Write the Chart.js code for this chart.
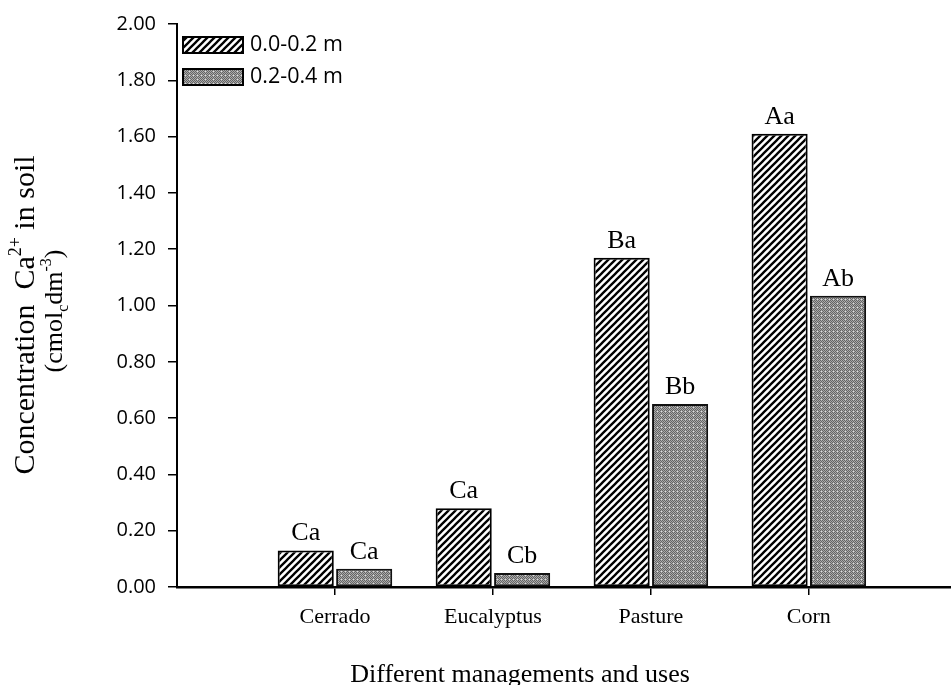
<!DOCTYPE html>
<html><head><meta charset="utf-8">
<script src="https://cdn.jsdelivr.net/npm/chart.js@4.4.0/dist/chart.umd.min.js"></script>
<style>html,body{margin:0;padding:0;background:#fff;}#wrap{width:951px;height:685px;position:relative;}</style>
</head><body><div id="wrap"><canvas id="c" width="951" height="685"></canvas></div>
<script>
// ---- data ----
const categories = ['Cerrado', 'Eucalyptus', 'Pasture', 'Corn'];
const seriesNames = ['0.0-0.2 m', '0.2-0.4 m'];
const depth0to20 = [0.13, 0.28, 1.17, 1.61];
const depth20to40 = [0.065, 0.05, 0.65, 1.035];
const letters0to20 = ['Ca', 'Ca', 'Ba', 'Aa'];
const letters20to40 = ['Ca', 'Cb', 'Bb', 'Ab'];
const yMin = 0, yMax = 2.0, yStep = 0.2;
const xTitle = 'Different managements and uses';
const yTitleLine1 = [['Concentration  Ca', 'n'], ['2+', 'sup'], [' in soil', 'n']];
const yTitleLine2 = [['(cmol', 'n'], ['c', 'sub'], ['dm', 'n'], ['-3', 'sup'], [')', 'n']];

// ---- patterns ----
function hatchPattern() {
  const n = 7, c = document.createElement('canvas'); c.width = n; c.height = n;
  const g = c.getContext('2d');
  g.fillStyle = '#fff'; g.fillRect(0, 0, n, n);
  g.strokeStyle = '#000'; g.lineWidth = 2.3; g.beginPath();
  g.moveTo(-1, n + 1); g.lineTo(n + 1, -1);
  g.moveTo(-2, 2); g.lineTo(2, -2);
  g.moveTo(n - 2, n + 2); g.lineTo(n + 2, n - 2);
  g.stroke();
  return g.createPattern(c, 'repeat');
}
function dotPattern() {
  const n = 8, c = document.createElement('canvas'); c.width = n; c.height = n;
  const g = c.getContext('2d');
  const img = g.createImageData(n, n);
  for (let y = 0; y < n; y++) for (let x = 0; x < n; x++) {
    let v = ((x + y) % 2 === 0) ? 100 : 170;
    if ((y === 3 && x % 4 === 1) || (x === 5 && y % 4 === 3)) v = 220;
    const i = (y * n + x) * 4;
    img.data[i] = img.data[i + 1] = img.data[i + 2] = v; img.data[i + 3] = 255;
  }
  g.putImageData(img, 0, 0);
  return g.createPattern(c, 'repeat');
}
const fills = [hatchPattern(), dotPattern()];

const SERIF = '"Liberation Serif", "Times New Roman", serif';
const SANS = '"Open Sans", "Noto Sans", sans-serif';

function drawRich(ctx, parts, size) {
  const fontN = size + 'px ' + SERIF, fontS = Math.round(size * 0.6) + 'px ' + SERIF;
  let w = 0;
  parts.forEach(p => { ctx.font = p[1] === 'n' ? fontN : fontS; w += ctx.measureText(p[0]).width; });
  let x = -w / 2;
  ctx.textAlign = 'left'; ctx.textBaseline = 'alphabetic';
  parts.forEach(p => {
    ctx.font = p[1] === 'n' ? fontN : fontS;
    const dy = p[1] === 'sup' ? -size * 0.42 : (p[1] === 'sub' ? size * 0.22 : 0);
    ctx.fillText(p[0], x, dy);
    x += ctx.measureText(p[0]).width;
  });
}

const annotations = {
  id: 'annotations',
  afterDatasetsDraw(chart) {
    const ctx = chart.ctx, ca = chart.chartArea;
    ctx.save();
    // letters above bars
    ctx.font = '26px ' + SERIF; ctx.fillStyle = '#000';
    ctx.textAlign = 'center'; ctx.textBaseline = 'alphabetic';
    [letters0to20, letters20to40].forEach((arr, di) => {
      chart.getDatasetMeta(di).data.forEach((el, i) => ctx.fillText(arr[i], el.x, el.y - 10));
    });
    // legend
    chart.data.datasets.forEach((ds, i) => {
      const bx = ca.left + 6, by = ca.top + 13 + i * 32;
      ctx.fillStyle = ds.backgroundColor; ctx.fillRect(bx, by, 60, 16);
      ctx.strokeStyle = '#000'; ctx.lineWidth = 2; ctx.strokeRect(bx, by, 60, 16);
      ctx.fillStyle = '#000'; ctx.font = '21.5px ' + SANS;
      ctx.textAlign = 'left'; ctx.textBaseline = 'middle';
      ctx.fillText(ds.label, bx + 67, by + 8);
    });
    // x title
    ctx.font = '26px ' + SERIF; ctx.textAlign = 'center'; ctx.textBaseline = 'alphabetic';
    ctx.fillText(xTitle, 520, 682);
    // y title
    ctx.save(); ctx.translate(34, 315); ctx.rotate(-Math.PI / 2); drawRich(ctx, yTitleLine1, 30); ctx.restore();
    ctx.save(); ctx.translate(62, 311); ctx.rotate(-Math.PI / 2); drawRich(ctx, yTitleLine2, 26); ctx.restore();
    ctx.restore();
  }
};

const toPoints = arr => arr.map((v, i) => ({ x: i + 1, y: v }));

new Chart(document.getElementById('c'), {
  type: 'bar',
  data: {
    datasets: [
      { label: seriesNames[0], data: toPoints(depth0to20), backgroundColor: fills[0], borderColor: '#000', borderWidth: 2, borderSkipped: false },
      { label: seriesNames[1], data: toPoints(depth20to40), backgroundColor: fills[1], borderColor: '#111', borderWidth: 2, borderSkipped: false }
    ]
  },
  options: {
    responsive: false, animation: false, devicePixelRatio: 1,
    categoryPercentage: 0.74, barPercentage: 0.96,
    layout: { padding: { left: 0, right: 0, top: 20, bottom: 0 } },
    plugins: { legend: { display: false }, tooltip: { enabled: false } },
    scales: {
      x: {
        type: 'linear', min: 0, max: 4.9, offset: false,
        grid: { drawOnChartArea: false, offset: false, tickLength: 8, lineWidth: 1.5,
          tickColor: ctx => (ctx.tick && ctx.tick.value >= 1 && Number.isInteger(ctx.tick.value)) ? '#000' : 'rgba(0,0,0,0)' },
        border: { display: true, color: '#000', width: 2.5 },
        ticks: { stepSize: 1, includeBounds: false, autoSkip: false, maxRotation: 0, padding: 9, color: '#000',
          font: { family: SERIF, size: 22 },
          callback: v => (Number.isInteger(v) && v >= 1 && v <= categories.length) ? categories[v - 1] : '' },
        afterFit: s => { s.height = 98; }
      },
      y: {
        min: yMin, max: yMax,
        grid: { drawOnChartArea: false, tickLength: 9, lineWidth: 1.5, tickColor: '#000' },
        border: { display: true, color: '#000', width: 2 },
        ticks: { stepSize: yStep, padding: 12, color: '#000', font: { family: SANS, size: 20 },
          callback: v => Number(v).toFixed(2) },
        afterFit: s => { s.width = 177; }
      }
    }
  },
  plugins: [annotations]
});
</script></body></html>
